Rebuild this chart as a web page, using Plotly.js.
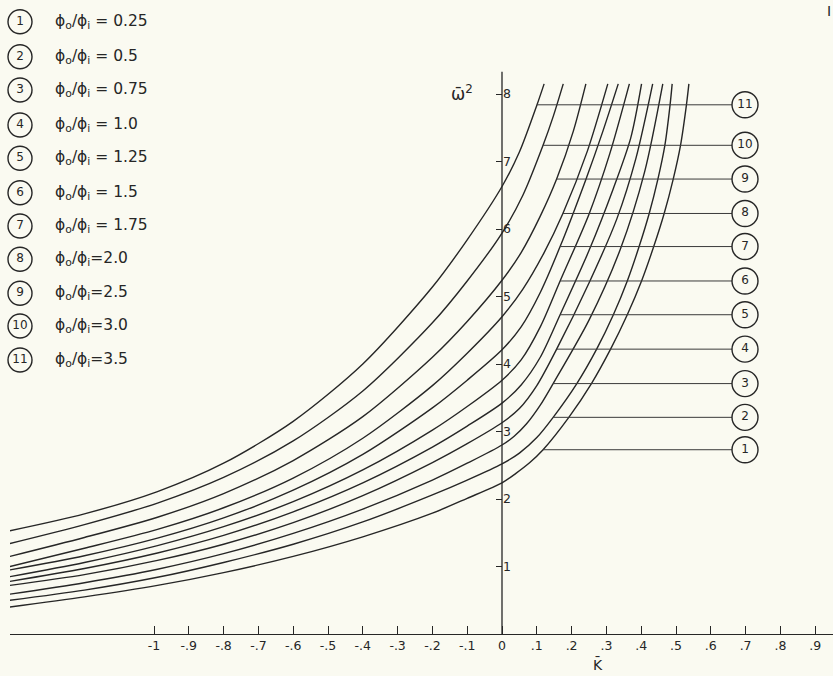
<!DOCTYPE html>
<html><head><meta charset="utf-8">
<script src="https://cdn.plot.ly/plotly-3.0.1.min.js"></script>
<style>html,body{margin:0;padding:0;background:#fafaf1;} #chart{width:833px;height:676px;}</style>
</head><body><div id="chart"></div>
<script>
// ---- data ----
const curveIds = ['1','2','3','4','5','6','7','8','9','10','11'];
const ratioLabels = ['0.25','0.5','0.75','1.0','1.25','1.5','1.75','2.0','2.5','3.0','3.5'];

const k1 = [-1.414,-1.2,-0.99,-0.8,-0.6,-0.4,-0.2,-0.1,0,0.04,0.08,0.118,0.192,0.257,0.312,0.360,0.401,0.436,0.466,0.492,0.513,0.530,0.537];
const w1 = [0.40,0.55,0.72,0.91,1.15,1.44,1.79,2.01,2.24,2.38,2.54,2.73,3.21,3.71,4.22,4.73,5.23,5.74,6.23,6.74,7.24,7.84,8.15];
const k2 = [-1.414,-1.2,-0.99,-0.8,-0.6,-0.4,-0.2,-0.1,0,0.05,0.10,0.147,0.215,0.272,0.320,0.360,0.394,0.423,0.448,0.468,0.483,0.489];
const w2 = [0.50,0.65,0.84,1.06,1.33,1.66,2.06,2.28,2.52,2.68,2.91,3.21,3.71,4.22,4.73,5.23,5.74,6.23,6.74,7.24,7.84,8.15];
const k3 = [-1.414,-1.2,-0.99,-0.8,-0.6,-0.4,-0.2,-0.1,0,0.035,0.07,0.11,0.147,0.25,0.34,0.41,0.462];
const w3 = [0.59,0.76,0.96,1.19,1.49,1.85,2.28,2.53,2.80,2.93,3.11,3.39,3.71,4.65,5.70,6.85,8.15];
const k4 = [-1.414,-1.2,-0.99,-0.8,-0.6,-0.4,-0.2,-0.1,0,0.05,0.10,0.157,0.25,0.33,0.385,0.433];
const w4 = [0.72,0.88,1.09,1.33,1.65,2.05,2.54,2.82,3.13,3.34,3.68,4.22,5.20,6.15,7.05,8.15];
const k5 = [-1.414,-1.2,-0.99,-0.8,-0.6,-0.4,-0.2,-0.1,0,0.055,0.11,0.167,0.25,0.32,0.37,0.401];
const w5 = [0.78,0.97,1.20,1.46,1.81,2.24,2.77,3.08,3.42,3.69,4.10,4.73,5.68,6.60,7.35,8.15];
const k6 = [-1.414,-1.2,-0.99,-0.8,-0.6,-0.4,-0.2,-0.1,0,0.055,0.11,0.167,0.25,0.31,0.366];
const w6 = [0.85,1.06,1.31,1.59,1.96,2.43,3.02,3.37,3.76,4.06,4.55,5.23,6.22,7.12,8.15];
const k7 = [-1.414,-1.2,-0.99,-0.8,-0.6,-0.4,-0.2,-0.1,0,0.055,0.11,0.167,0.24,0.29,0.334];
const w7 = [0.95,1.16,1.42,1.72,2.13,2.66,3.35,3.76,4.21,4.55,5.06,5.74,6.72,7.45,8.15];
const k8 = [-1.414,-1.2,-0.99,-0.8,-0.6,-0.4,-0.2,-0.1,0,0.06,0.12,0.175,0.245,0.304];
const w8 = [1.00,1.27,1.55,1.87,2.31,2.90,3.68,4.16,4.70,5.11,5.64,6.23,7.15,8.15];
const k9 = [-1.414,-1.2,-0.99,-0.8,-0.6,-0.4,-0.2,-0.1,0,0.055,0.11,0.157,0.205,0.241];
const w9 = [1.15,1.43,1.73,2.08,2.57,3.22,4.10,4.63,5.24,5.65,6.19,6.74,7.45,8.15];
const k10 = [-1.414,-1.2,-0.99,-0.8,-0.6,-0.4,-0.2,-0.1,0,0.06,0.118,0.148,0.176];
const w10 = [1.34,1.62,1.94,2.32,2.86,3.60,4.61,5.23,5.94,6.50,7.24,7.68,8.15];
const k11 = [-1.414,-1.2,-0.99,-0.8,-0.6,-0.4,-0.2,-0.1,0,0.05,0.1006,0.121];
const w11 = [1.53,1.78,2.11,2.53,3.15,4.00,5.14,5.84,6.63,7.14,7.84,8.15];

const leaderK = [0.118,0.147,0.147,0.157,0.167,0.167,0.167,0.175,0.157,0.118,0.1006];
const leaderW = [2.73,3.21,3.71,4.22,4.73,5.23,5.74,6.23,6.74,7.24,7.84];

const xTickVals = [-1,-0.9,-0.8,-0.7,-0.6,-0.5,-0.4,-0.3,-0.2,-0.1,0,0.1,0.2,0.3,0.4,0.5,0.6,0.7,0.8,0.9];
const xTickText = ['-1','-.9','-.8','-.7','-.6','-.5','-.4','-.3','-.2','-.1','0','.1','.2','.3','.4','.5','.6','.7','.8','.9'];
const yTickVals = [1,2,3,4,5,6,7,8];
const yTickText = ['1','2','3','4','5','6','7','8'];
const yAxisTop = 8.33;

// ---- layout constants ----
const INK = '#262626';
const BG = '#fafaf1';
const W = 833, H = 676;
const M = {l:10, r:0, t:0, b:42};
const pxPerK = 348, pxPerW = 67.5, originX = 502, originY = 634;
const kOf = px => (px - originX) / pxPerK;
const wOf = py => (originY - py) / pxPerW;
const labelK = kOf(745);
const leaderEndK = kOf(732);
const legendCircleK = kOf(20);
const legendTextK = kOf(53);
const legendRowsPx = [21.7,56.7,90,125,158.3,192.7,226,259.3,293.3,326,360];
const FONT = 'DejaVu Sans';

const ks = [k1,k2,k3,k4,k5,k6,k7,k8,k9,k10,k11];
const ws = [w1,w2,w3,w4,w5,w6,w7,w8,w9,w10,w11];

const traces = [];
ks.forEach((k,i) => {
  traces.push({x:k, y:ws[i], type:'scatter', mode:'lines', name:curveIds[i],
    line:{color:INK, width:1.4, shape:'spline', smoothing:0.8}, hoverinfo:'skip'});
});
// leader lines
const lx = [], ly = [];
leaderK.forEach((k,i) => { lx.push(k, leaderEndK, null); ly.push(leaderW[i], leaderW[i], null); });
traces.push({x:lx, y:ly, type:'scatter', mode:'lines', line:{color:'#3a3a3a', width:1}, hoverinfo:'skip'});
// right circle labels
traces.push({x:leaderW.map(()=>labelK), y:leaderW, type:'scatter', mode:'markers+text',
  text:curveIds, textposition:'middle center', textfont:{family:FONT, size:12, color:INK},
  marker:{symbol:'circle-open', size:26, color:INK, line:{width:1.4, color:INK}}, hoverinfo:'skip', cliponaxis:false});
// legend circles
traces.push({x:legendRowsPx.map(()=>legendCircleK), y:legendRowsPx.map(wOf), type:'scatter', mode:'markers+text',
  text:curveIds, textposition:'middle center', textfont:{family:FONT, size:12, color:INK},
  marker:{symbol:'circle-open', size:24, color:INK, line:{width:1.4, color:INK}}, hoverinfo:'skip', cliponaxis:false});

const annotations = ratioLabels.map((r,i) => ({
  x:legendTextK, y:wOf(legendRowsPx[i]), xref:'x', yref:'y', xanchor:'left', yanchor:'middle', showarrow:false,
  text:'ϕ<sub>o</sub>/ϕ<sub>i</sub>' + (i < 7 ? ' = ' : '=') + r,
  font:{family:FONT, size:15.5, color:INK}
}));
annotations.push({x:kOf(462), y:wOf(93), xref:'x', yref:'y', showarrow:false, text:'ω̄<sup>2</sup>',
  font:{family:FONT, size:17, color:INK}});
annotations.push({x:kOf(598), y:(originY - 664)/originY, xref:'x', yref:'paper', xanchor:'center', yanchor:'middle',
  showarrow:false, text:'K̄', font:{family:FONT, size:14, color:INK}});
annotations.push({x:kOf(829), y:wOf(11), xref:'x', yref:'y', showarrow:false, text:'I',
  font:{family:FONT, size:14, color:INK}});

const layout = {
  width:W, height:H, margin:M, showlegend:false,
  paper_bgcolor:BG, plot_bgcolor:BG,
  xaxis:{range:[kOf(M.l), kOf(W)], showgrid:false, zeroline:false, showline:true, linecolor:INK, linewidth:1.3,
    ticks:'inside', ticklen:8, tickwidth:1, tickcolor:INK, tickvals:xTickVals, ticktext:xTickText,
    tickfont:{family:FONT, size:12.5, color:INK}, fixedrange:true},
  yaxis:{range:[0, wOf(0)], showgrid:false, zeroline:false, showline:false,
    anchor:'free', position:(originX - M.l)/(W - M.l - M.r), side:'right',
    ticks:'inside', ticklen:6, tickwidth:1, tickcolor:INK, tickvals:yTickVals, ticktext:yTickText,
    tickfont:{family:FONT, size:12.5, color:INK}, fixedrange:true},
  shapes:[{type:'line', xref:'x', yref:'y', x0:0, x1:0, y0:0, y1:yAxisTop, line:{color:INK, width:1.3}}],
  annotations:annotations
};
Plotly.newPlot('chart', traces, layout, {staticPlot:true, displayModeBar:false});
</script></body></html>
